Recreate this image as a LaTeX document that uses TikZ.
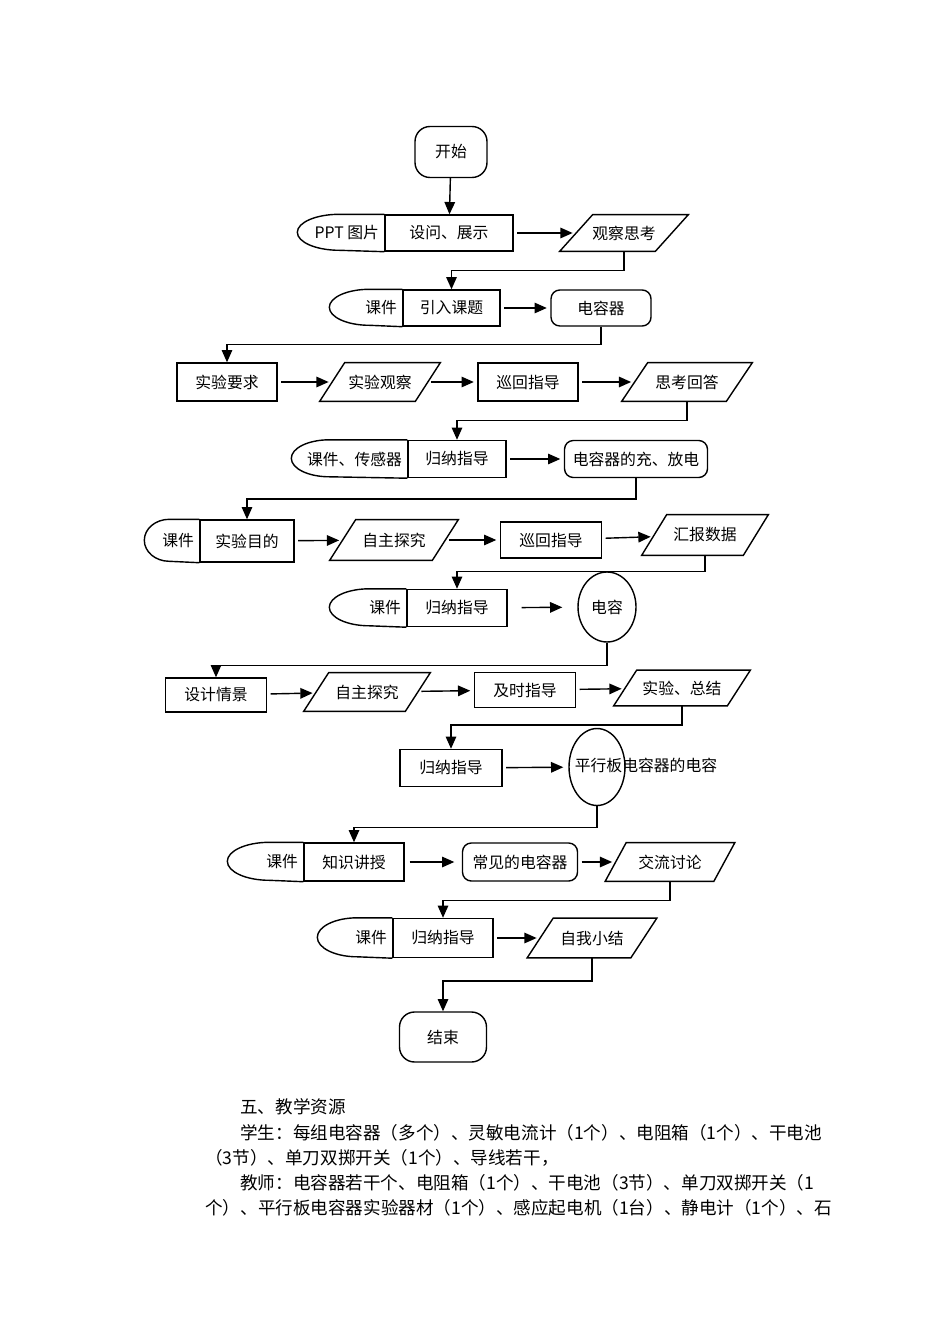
\documentclass[tikz,border=0pt]{standalone}
\usepackage{fontspec}
\setmainfont{Noto Sans CJK SC}
\usepackage{tikz}
\usetikzlibrary{arrows.meta,shapes.geometric}

\newcommand{\fs}{\fontsize{9pt}{11pt}\selectfont}
\tikzset{
  txt/.style={inner sep=0pt, font=\fs},
  box/.style={draw, thick, inner sep=0pt, font=\fs, minimum height=0.74cm},
  rbox/.style={box, rounded corners=5pt},
  term/.style={box, rounded corners=0.3cm},
  oval/.style={draw, thick, ellipse, inner sep=0pt, font=\fs},
  arr/.style={thick, -{Triangle[length=7pt,width=6pt]}, shorten <=2pt, shorten >=2pt},
  link/.style={thick, -{Triangle[length=7pt,width=6pt]}}
}
% parallelogram: name, centre, width, height, half slant, text
\newcommand{\para}[6]{
  \node[txt, minimum width=#3, minimum height=#4] (#1) at (#2) {#6};
  \draw[thick] ([xshift=#5]#1.north west) -- ([xshift=#5]#1.north east)
    -- ([xshift=-#5]#1.south east) -- ([xshift=-#5]#1.south west) -- cycle;
}
% stored data: name, centre, width, height, top line, x radius, y radius, left text, right text
\newcommand{\pair}[9]{
  \node[box, minimum width=#3, minimum height=#4] (#1) at (#2) {#9};
  \draw[thick] (#1.north west) -- ++(-#5,0)
    arc[start angle=90, end angle=270, x radius=#6, y radius=#7] -- (#1.south west);
  \node[txt, anchor=east] (#1l) at ([xshift=-0.1cm]#1.west) {#8};
}

\begin{document}
\begin{tikzpicture}[x=0.02cm, y=-0.02cm]
  \useasboundingbox (0,0) rectangle (950,1344);

  \node[term, minimum width=1.44cm, minimum height=1.02cm] (start) at (451,152) {开始};

  \pair{ppt}{449,233}{2.56cm}{0.72cm}{45}{0.84cm}{0.36cm}{PPT 图片}{设问、展示}
  \para{watch}{624,233}{1.9cm}{0.72cm}{0.33cm}{观察思考}

  \pair{intro}{451.5,308}{1.94cm}{0.72cm}{33}{0.8cm}{0.36cm}{课件}{引入课题}
  \node[rbox, minimum width=2cm, minimum height=0.72cm] (cap) at (601,308) {电容器};

  \node[box, minimum width=2cm, minimum height=0.76cm] (req) at (227,382) {实验要求};
  \para{obs}{380,382}{1.9cm}{0.76cm}{0.25cm}{实验观察}
  \node[box, minimum width=2cm, minimum height=0.76cm] (tour) at (528,382) {巡回指导};
  \para{think}{687,382}{2.08cm}{0.76cm}{0.26cm}{思考回答}

  \pair{sens}{457,459}{1.96cm}{0.74cm}{78}{0.76cm}{0.37cm}{课件、传感器}{归纳指导}
  \node[rbox, minimum width=2.86cm, minimum height=0.74cm] (charge) at (636,459) {电容器的充、放电};

  \pair{aim}{247,541}{1.88cm}{0.84cm}{30}{0.5cm}{0.42cm}{课件}{实验目的}
  \para{self}{394,540}{2.04cm}{0.8cm}{0.26cm}{自主探究}
  \node[box, minimum width=2.02cm, minimum height=0.72cm] (tourb) at (551,540) {巡回指导};
  \para{data}{705,535}{2.02cm}{0.8cm}{0.25cm}{汇报数据}

  \pair{sum}{457,608}{2cm}{0.74cm}{37}{0.8cm}{0.37cm}{课件}{归纳指导}
  \node[oval, minimum width=1.16cm, minimum height=1.4cm] (capa) at (607,607) {电容};

  \node[box, minimum width=2.02cm, minimum height=0.68cm] (design) at (216,695) {设计情景};
  \para{selfb}{367,692}{2.02cm}{0.76cm}{0.25cm}{自主探究}
  \node[box, minimum width=2.02cm, minimum height=0.7cm] (guide) at (525,690) {及时指导};
  \para{exp}{682,688}{2.26cm}{0.7cm}{0.23cm}{实验、总结}

  \node[box, minimum width=2.04cm, minimum height=0.74cm] (sumb) at (451,768) {归纳指导};
  \node[oval, minimum width=1.12cm, minimum height=1.54cm] (plate) at (597,767) {};
  \node[txt] (platet) at (646,765) {平行板电容器的电容};

  \pair{teach}{354,862}{2cm}{0.76cm}{34}{0.84cm}{0.38cm}{课件}{知识讲授}
  \node[rbox, minimum width=2.3cm, minimum height=0.76cm] (common) at (520,862) {常见的电容器};
  \para{talk}{670,862}{2.16cm}{0.76cm}{0.21cm}{交流讨论}

  \pair{sumc}{443,938}{2cm}{0.78cm}{35}{0.8cm}{0.39cm}{课件}{归纳指导}
  \para{self3}{592,938}{2.06cm}{0.78cm}{0.26cm}{自我小结}

  \node[term, minimum width=1.74cm, minimum height=1cm] (end) at (443,1037) {结束};

  % rows
  \draw[arr] (ppt) -- (watch);
  \draw[arr] (intro) -- (cap);
  \draw[arr] (req) -- (obs);
  \draw[arr] (obs) -- (tour);
  \draw[arr] (tour) -- (think);
  \draw[arr] (sens) -- (charge);
  \draw[arr] (aim) -- (self);
  \draw[arr] (self) -- (tourb);
  \draw[arr] (tourb) -- (data);
  \draw[arr, shorten <=0.28cm, shorten >=0.3cm] (sum) -- (capa);
  \draw[arr] (design) -- (selfb);
  \draw[arr] (selfb) -- (guide);
  \draw[arr] (guide) -- (exp);
  \draw[arr, shorten >=0.1cm] (sumb) -- (plate);
  \draw[arr, shorten <=0.1cm, shorten >=0.15cm] (teach) -- (common);
  \draw[arr] (common) -- (talk);
  \draw[arr] (sumc) -- (self3);

  % drops
  \draw[link] (start) -- (ppt);
  \draw[link] (watch.south) -- ++(0,19) -| (intro.north);
  \draw[link] (cap.south) -- ++(0,18) -| (req.north);
  \draw[link] (think.south) -- ++(0,19) -| (sens.north);
  \draw[link] (charge.south) -- ++(0,21) -| (aim.north);
  \draw[link] (data.south) -- ++(0,16) -| (sum.north);
  \draw[link] (capa.south) -- ++(0,23) -| (design.north);
  \draw[link] (exp.south) -- ++(0,19) -| (sumb.north);
  \draw[link] (plate.south) -- ++(0,21) -| (teach.north);
  \draw[link] (talk.south) -- ++(0,19) -| (sumc.north);
  \draw[link] (self3.south) -- ++(0,23) -| (end.north);

  % text below
  \begin{scope}[every node/.style={anchor=west, inner sep=0pt, font=\fontsize{10pt}{12pt}\selectfont}]
    \node (res) at (240,1107) {五、教学资源};
    \node (stu) at (240,1133) {学生：每组电容器（多个）、灵敏电流计（1个）、电阻箱（1个）、干电池};
    \node (stub) at (205,1158) {（3节）、单刀双掷开关（1个）、导线若干，};
    \node (tea) at (240,1183) {教师：电容器若干个、电阻箱（1个）、干电池（3节）、单刀双掷开关（1};
    \node (teab) at (205,1208) {个）、平行板电容器实验器材（1个）、感应起电机（1台）、静电计（1个）、石};
  \end{scope}

\end{tikzpicture}
\end{document}
